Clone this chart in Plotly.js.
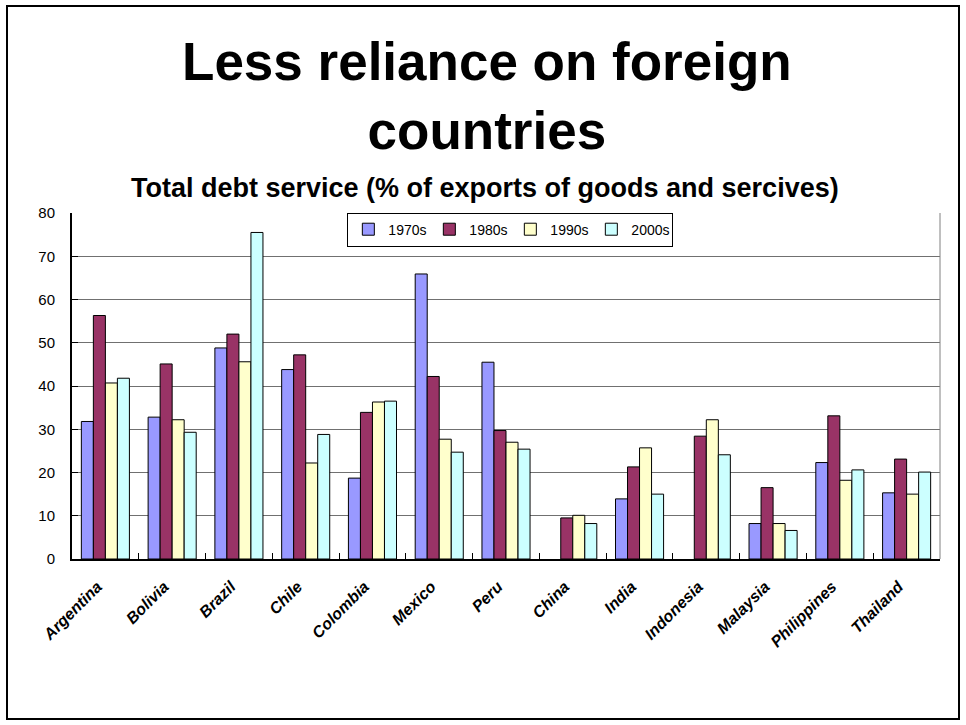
<!DOCTYPE html>
<html>
<head>
<meta charset="utf-8">
<script src="https://cdn.plot.ly/plotly-3.0.1.min.js"></script>
<style>
html,body{margin:0;padding:0;background:#fff;}
#wrap{position:relative;width:966px;height:725px;}
#chart{position:absolute;left:0;top:0;width:966px;height:725px;}
#frame{position:absolute;left:6px;top:5px;width:950px;height:711px;border:2px solid #000;pointer-events:none;}
</style>
</head>
<body>
<div id="wrap"><div id="chart"></div><div id="frame"></div></div>
<script>
const countries = ["Argentina","Bolivia","Brazil","Chile","Colombia","Mexico","Peru","China","India","Indonesia","Malaysia","Philippines","Thailand"];
const s1970 = [31.8, 32.8, 48.8, 43.8, 18.7, 65.9, 45.5, null, 13.9, null, 8.2, 22.3, 15.3];
const s1980 = [56.3, 45.1, 52.0, 47.2, 33.9, 42.2, 29.7, 9.5, 21.3, 28.4, 16.5, 33.1, 23.1];
const s1990 = [40.7, 32.2, 45.6, 22.2, 36.3, 27.7, 27.0, 10.1, 25.7, 32.2, 8.2, 18.2, 15.0];
const s2000 = [41.8, 29.3, 75.5, 28.8, 36.5, 24.7, 25.4, 8.2, 15.0, 24.1, 6.6, 20.6, 20.1];
const seriesNames = ["1970s","1980s","1990s","2000s"];
const colors = ["#9999FF","#993366","#FFFFCC","#CCFFFF"];
const yTicks = [0,10,20,30,40,50,60,70,80];

const allSeries = [s1970, s1980, s1990, s2000];
const traces = allSeries.map((vals, i) => ({
  type: 'bar',
  name: seriesNames[i],
  x: countries,
  y: vals,
  marker: {color: colors[i], line: {color: '#000', width: 1}}
}));

const layout = {
  width: 966, height: 725,
  paper_bgcolor: '#fff', plot_bgcolor: '#fff',
  margin: {l: 72, r: 26, t: 213, b: 166},
  barmode: 'group', bargap: 0.28, bargroupgap: 0,
  font: {family: 'Liberation Sans, Arial, sans-serif', color: '#000'},
  title: {
    text: 'Less reliance on foreign<br>countries',
    font: {family: 'Liberation Sans, Arial, sans-serif', size: 53, weight: 'bold', color: '#000'},
    x: 0.504, xanchor: 'center',
    yref: 'container', y: 1 - 80/725, yanchor: 'top'
  },
  annotations: [{
    text: 'Total debt service (% of exports of goods and sercives)',
    xref: 'paper', yref: 'paper', x: 0.476, y: (559.3-188)/346,
    xanchor: 'center', yanchor: 'middle', showarrow: false,
    font: {family: 'Liberation Sans, Arial, sans-serif', size: 27, weight: 'bold', color: '#000'}
  }],
  xaxis: {
    type: 'category',
    tickangle: -45,
    tickfont: {family: 'Liberation Sans, Arial, sans-serif', size: 16, weight: 'bold', style: 'italic', color: '#000'},
    tickson: 'boundaries', ticks: 'inside', ticklen: 6, tickcolor: '#000',
    ticklabelstandoff: 10, ticklabelshift: -8,
    showline: true, linecolor: '#000', linewidth: 2,
    showgrid: false, fixedrange: true
  },
  yaxis: {
    range: [0, 80],
    tickvals: yTicks,
    ticks: 'inside', ticklen: 6, tickcolor: '#000',
    ticklabelstandoff: 12,
    tickfont: {family: 'Liberation Sans, Arial, sans-serif', size: 15, color: '#000'},
    showline: true, linecolor: '#000', linewidth: 2,
    showgrid: true, gridcolor: '#707070', gridwidth: 1,
    zeroline: false, fixedrange: true
  },
  shapes: [{type: 'line', xref: 'paper', yref: 'paper', x0: 1, x1: 1, y0: 0, y1: 1, line: {color: '#808080', width: 1}}],
  legend: {
    orientation: 'h', x: 0.505, xanchor: 'center', y: 0.952, yanchor: 'middle',
    bgcolor: '#fff', bordercolor: '#000', borderwidth: 1,
    font: {family: 'Liberation Sans, Arial, sans-serif', size: 14, color: '#000'},
    traceorder: 'normal', itemwidth: 30, entrywidth: 36
  },
  showlegend: true
};

Plotly.newPlot('chart', traces, layout, {displayModeBar: false, staticPlot: true});
</script>
</body>
</html>
